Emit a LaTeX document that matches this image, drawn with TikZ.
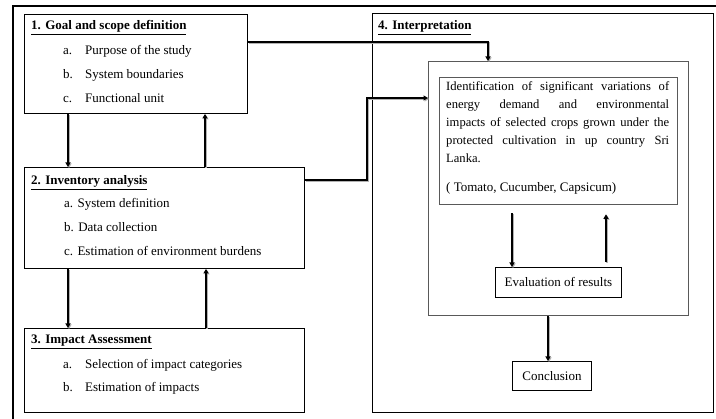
\documentclass[tikz,border=0pt]{standalone}
\usepackage{fontspec}
\setmainfont{Liberation Serif}
\usetikzlibrary{arrows.meta}
\begin{document}
\begin{tikzpicture}[x=1pt,y=-1pt,
  stagebox/.style={draw=black, line width=0.9pt, rectangle, anchor=north west, inner sep=0pt},
  greybox/.style={draw=black!65, line width=1.3pt, rectangle, anchor=north west, inner sep=0pt},
  flow/.style={line width=1.7pt, -{Triangle[length=4.5pt,width=5pt]},
    preaction={draw=black!30, line width=1.7pt, transform canvas={shift={(1pt,-1pt)}}}},
  txt/.style={font=\fontsize{13}{15}\selectfont, inner sep=0pt, anchor=base west},
  ttl/.style={txt, font=\fontsize{13}{15}\selectfont\bfseries},
]
\useasboundingbox (0,0) rectangle (716,419);

% heavy frame around the whole chart
\draw[line width=2.6pt] (716,6) -- (13,6) -- (13,419);

% stage boxes
\node[stagebox, minimum width=223pt, minimum height=99pt] (b1) at (24,14) {};
\node[stagebox, minimum width=280pt, minimum height=101pt] (b2) at (24,167) {};
\node[stagebox, minimum width=280pt, minimum height=84pt] (b3) at (24,328) {};
\node[stagebox, minimum width=341pt, minimum height=399pt] (b4) at (372,13) {};
\node[greybox, minimum width=260pt, minimum height=254pt] (in) at (428,61) {};
\node[greybox, minimum width=238pt, minimum height=127pt] (tb) at (439,77) {};
\node[stagebox, minimum width=126pt, minimum height=30pt, font=\fontsize{13}{15}\selectfont] (ev) at (495,267) {Evaluation of results};
\node[stagebox, minimum width=79pt, minimum height=29pt, font=\fontsize{13}{15}\selectfont] (cn) at (512,361) {Conclusion};

% 1. goal and scope
\node[ttl] (t1) at (31,30) {\underline{1. Goal and scope definition}};
\node[txt] (t1a) at (63,55) {a.};
\node[txt] (t1at) at (85,55) {Purpose of the study};
\node[txt] (t1b) at (63,79) {b.};
\node[txt] (t1bt) at (85,79) {System boundaries};
\node[txt] (t1c) at (63,103) {c.};
\node[txt] (t1ct) at (85,103) {Functional unit};

% 2. inventory analysis
\node[ttl] (t2) at (31,185) {\underline{2. Inventory analysis}};
\node[txt] (t2a) at (64,208) {a. System definition};
\node[txt] (t2b) at (64,232) {b. Data collection};
\node[txt] (t2c) at (64,256) {c. Estimation of environment burdens};

% 3. impact assessment
\node[ttl] (t3) at (31,344) {\underline{3. Impact Assessment}};
\node[txt] (t3a) at (63,369) {a.};
\node[txt] (t3at) at (85,369) {Selection of impact categories};
\node[txt] (t3b) at (63,392) {b.};
\node[txt] (t3bt) at (85,392) {Estimation of impacts};

% 4. interpretation
\node[ttl] (t4) at (378,30) {\underline{4. Interpretation}};
\node[txt, anchor=north west, text width=223pt, align=justify,
      font=\fontsize{12.6}{18}\selectfont] (t4p) at (446,81)
  {\hyphenpenalty=10000 \spaceskip=0.22em plus 1em minus 0.05em
   Identification of significant variations of\linebreak
   energy demand and environmental\linebreak
   impacts of selected crops grown under the\linebreak
   protected cultivation in up country Sri\linebreak
   Lanka.};
\node[txt] (t4q) at (446,192) {( Tomato, Cucumber, Capsicum)};

% connectors between the stages
\draw[flow] ([xshift=44pt]b1.south west) -- ([xshift=44pt]b2.north west);
\draw[flow] ([xshift=181pt]b2.north west) -- ([xshift=181pt]b1.south west);
\draw[flow] ([xshift=44pt]b2.south west) -- ([xshift=44pt]b3.north west);
\draw[flow] ([xshift=182pt]b3.north west) -- ([xshift=182pt]b2.south west);
\draw[flow] ([yshift=-28pt]b1.north east) -| ([xshift=60pt]in.north west);
\coordinate (bend) at (367,98);
\draw[flow] ([yshift=-13pt]b2.north east) -| (bend) -- ([yshift=-37pt]in.north west);
\draw[flow] ([xshift=73pt,yshift=-8pt]tb.south west) -- ([xshift=17pt]ev.north west);
\draw[flow] ([xshift=111pt,yshift=5pt]ev.north west) -- ([xshift=167pt,yshift=-9pt]tb.south west);
\draw[flow] ([xshift=120pt]in.south west) -- ([xshift=36pt]cn.north west);
\end{tikzpicture}
\end{document}
